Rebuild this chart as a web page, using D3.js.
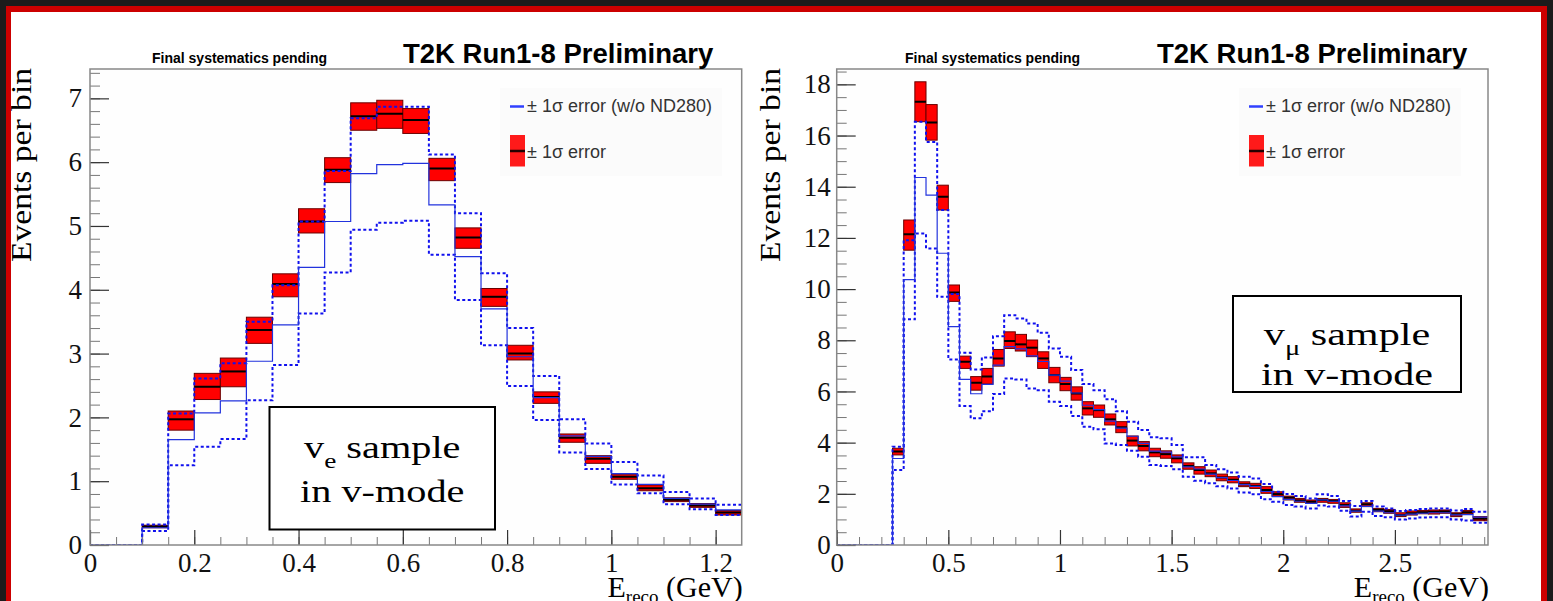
<!DOCTYPE html>
<html>
<head>
<meta charset="utf-8">
<script src="https://cdn.jsdelivr.net/npm/d3@7"></script>
<style>
  html, body { margin: 0; padding: 0; background: #1b1b1b; }
  svg { display: block; }
</style>
</head>
<body>
<svg id="svg" width="1553" height="601"></svg>
<script>
// bins are 0.05 GeV wide, starting at 0
var binWidth = 0.05;

// nu_e sample: postfit central / -1 sigma / +1 sigma
var nueCentral = [0, 0, 0.29, 1.97, 2.48, 2.72, 3.37, 4.09, 5.07, 5.88, 6.72, 6.76, 6.66, 5.90, 4.82, 3.89, 3.00, 2.32, 1.68, 1.35, 1.07, 0.89, 0.71, 0.62, 0.51];
var nueLow     = [0, 0, 0.27, 1.80, 2.28, 2.48, 3.16, 3.89, 4.89, 5.68, 6.50, 6.53, 6.45, 5.71, 4.65, 3.74, 2.90, 2.22, 1.61, 1.28, 1.03, 0.85, 0.68, 0.59, 0.47];
var nueHigh    = [0, 0, 0.31, 2.10, 2.69, 2.93, 3.57, 4.25, 5.27, 6.07, 6.93, 6.97, 6.84, 6.06, 4.97, 4.02, 3.13, 2.40, 1.74, 1.40, 1.11, 0.94, 0.74, 0.65, 0.54];
// nu_e sample without ND280: nominal and +-1 sigma
var nuePrefit     = [0, 0, 0.27, 1.65, 2.07, 2.26, 2.88, 3.45, 4.35, 5.07, 5.82, 5.96, 5.98, 5.33, 4.52, 3.70, 2.95, 2.31, 1.71, 1.39, 1.12, 0.95, 0.73, 0.64, 0.55];
var nuePrefitHigh = [0, 0, 0.32, 2.06, 2.61, 2.85, 3.50, 4.07, 5.07, 5.86, 6.69, 6.87, 6.87, 6.12, 5.20, 4.26, 3.40, 2.65, 1.97, 1.59, 1.30, 1.09, 0.83, 0.73, 0.63];
var nuePrefitLow  = [0, 0, 0.22, 1.25, 1.54, 1.66, 2.27, 2.82, 3.63, 4.27, 4.94, 5.05, 5.08, 4.55, 3.84, 3.13, 2.49, 1.96, 1.45, 1.19, 0.95, 0.81, 0.64, 0.56, 0.47];

// nu_mu sample
var numuCentral = [0, 0, 0, 0, 0, 3.65, 12.14, 17.32, 16.51, 13.61, 9.87, 7.16, 6.34, 6.58, 7.29, 7.97, 7.84, 7.71, 7.29, 6.64,
  6.29, 5.92, 5.34, 5.27, 4.91, 4.60, 4.08, 3.87, 3.62, 3.55, 3.39, 3.09, 2.93, 2.80, 2.64, 2.55, 2.37, 2.31, 2.15, 1.99,
  1.85, 1.74, 1.69, 1.76, 1.72, 1.56, 1.34, 1.59, 1.37, 1.32, 1.17, 1.24, 1.28, 1.30, 1.31, 1.20, 1.28, 1.03, 1.03];
var numuLow = [0, 0, 0, 0, 0, 3.52, 11.52, 16.54, 15.82, 13.09, 9.52, 6.90, 6.05, 6.29, 6.99, 7.68, 7.58, 7.36, 6.90, 6.34,
  6.03, 5.66, 5.08, 4.99, 4.69, 4.39, 3.87, 3.68, 3.45, 3.39, 3.21, 2.96, 2.77, 2.67, 2.51, 2.43, 2.28, 2.21, 2.02, 1.91,
  1.76, 1.67, 1.63, 1.67, 1.63, 1.47, 1.28, 1.50, 1.30, 1.24, 1.11, 1.17, 1.22, 1.21, 1.24, 1.11, 1.22, 0.95, 0.95];
var numuHigh = [0, 0, 0, 0, 0, 3.78, 12.70, 18.10, 17.21, 14.06, 10.16, 7.38, 6.58, 6.90, 7.64, 8.33, 8.23, 8.01, 7.55, 6.94,
  6.55, 6.18, 5.60, 5.47, 5.12, 4.82, 4.26, 4.04, 3.78, 3.68, 3.52, 3.21, 3.06, 2.93, 2.77, 2.67, 2.47, 2.41, 2.28, 2.08,
  1.91, 1.82, 1.76, 1.82, 1.78, 1.65, 1.41, 1.65, 1.43, 1.39, 1.26, 1.33, 1.35, 1.37, 1.37, 1.26, 1.35, 1.11, 1.11];
var numuPrefit = [0, 0, 0, 0, 0, 3.38, 10.37, 14.36, 13.67, 11.40, 8.53, 6.47, 5.91, 6.28, 7.03, 7.75, 7.66, 7.39, 7.17, 6.64,
  6.40, 5.94, 5.46, 5.29, 4.84, 4.57, 4.25, 3.97, 3.67, 3.63, 3.44, 3.05, 2.97, 2.77, 2.63, 2.52, 2.36, 2.29, 2.09, 1.89,
  1.78, 1.71, 1.63, 1.76, 1.71, 1.53, 1.32, 1.51, 1.32, 1.26, 1.17, 1.21, 1.24, 1.26, 1.26, 1.18, 1.19, 1.09, 1.09];
var numuPrefitHigh = [0, 0, 0, 0, 0, 3.84, 11.91, 16.54, 15.75, 13.09, 9.81, 7.51, 6.86, 7.33, 8.16, 8.98, 8.85, 8.66, 8.29, 7.68,
  7.36, 6.84, 6.29, 6.05, 5.70, 5.23, 4.82, 4.49, 4.21, 4.17, 3.91, 3.43, 3.43, 3.13, 2.96, 2.83, 2.67, 2.60, 2.38, 2.08,
  1.99, 1.91, 1.82, 1.98, 1.91, 1.72, 1.52, 1.72, 1.50, 1.43, 1.33, 1.37, 1.41, 1.43, 1.43, 1.35, 1.41, 1.30, 1.30];
var numuPrefitLow = [0, 0, 0, 0, 0, 2.93, 8.82, 12.17, 11.59, 9.70, 7.25, 5.43, 4.95, 5.23, 5.90, 6.51, 6.47, 6.12, 6.05, 5.60,
  5.43, 5.04, 4.62, 4.52, 3.97, 3.91, 3.68, 3.45, 3.13, 3.09, 2.96, 2.67, 2.51, 2.41, 2.30, 2.21, 2.05, 1.98, 1.79, 1.69,
  1.56, 1.50, 1.43, 1.54, 1.50, 1.34, 1.11, 1.30, 1.13, 1.08, 1.00, 1.04, 1.07, 1.08, 1.08, 1.00, 0.96, 0.87, 0.87];

var nueXTicks = [0, 0.2, 0.4, 0.6, 0.8, 1, 1.2];
var nueYTicks = [0, 1, 2, 3, 4, 5, 6, 7];
var numuXTicks = [0, 0.5, 1, 1.5, 2, 2.5];
var numuYTicks = [0, 2, 4, 6, 8, 10, 12, 14, 16, 18];

var legendLabels = ["\u00b1 1\u03c3 error (w/o ND280)", "\u00b1 1\u03c3 error"];

var panels = [
  {
    id: "nue", left: 90, top: 69, right: 741.7, bottom: 545,
    xMax: 1.25, yMax: 7.46, xTicks: nueXTicks, yTicks: nueYTicks,
    xMinorStep: 0.05, yMinorStep: 0.2, yPad: 8,
    central: nueCentral, low: nueLow, high: nueHigh,
    prefit: nuePrefit, prefitHigh: nuePrefitHigh, prefitLow: nuePrefitLow,
    finalX: 152, t2kX: 403, legendX: 510, ytitleX: 31,
    box: [269.5, 407, 495, 529.5], sub: "e", line1: 51, line2: 95, squeeze: 1.3
  },
  {
    id: "numu", left: 836.7, top: 69, right: 1488, bottom: 545,
    xMax: 2.917, yMax: 18.6, xTicks: numuXTicks, yTicks: numuYTicks,
    xMinorStep: 0.1, yMinorStep: 0.5, yPad: 6,
    central: numuCentral, low: numuLow, high: numuHigh,
    prefit: numuPrefit, prefitHigh: numuPrefitHigh, prefitLow: numuPrefitLow,
    finalX: 905, t2kX: 1157, legendX: 1249, ytitleX: 780,
    box: [1233, 296, 1461, 392], sub: "\u03bc", line1: 49, line2: 89, squeeze: 1.36
  }
];

var svg = d3.select("#svg");

// slide frame
svg.append("rect").attr("x", 0).attr("y", 0).attr("width", 1553).attr("height", 601).attr("fill", "#1b1b1b");
svg.append("rect").attr("x", 6).attr("y", 6).attr("width", 1541).attr("height", 600).attr("fill", "#cc0000");
svg.append("rect").attr("x", 11).attr("y", 12).attr("width", 1530).attr("height", 600).attr("fill", "#ffffff");

function stepPoints(vals) {
  var pts = [];
  vals.forEach(function(v, i) {
    pts.push([i * binWidth, v]);
    pts.push([(i + 1) * binWidth, v]);
  });
  return pts;
}

panels.forEach(function(p) {
  var x = d3.scaleLinear().domain([0, p.xMax]).range([p.left, p.right]);
  var y = d3.scaleLinear().domain([0, p.yMax]).range([p.bottom, p.top]);
  var g = svg.append("g").attr("id", p.id);

  g.append("rect")
    .attr("x", p.left).attr("y", p.top)
    .attr("width", p.right - p.left).attr("height", p.bottom - p.top)
    .attr("fill", "#fefefe");

  g.append("clipPath").attr("id", "clip-" + p.id)
    .append("rect")
    .attr("x", p.left).attr("y", p.top)
    .attr("width", p.right - p.left).attr("height", p.bottom - p.top);

  var h = g.append("g").attr("clip-path", "url(#clip-" + p.id + ")");
  var bins = p.central.map(function(d, i) { return i; }).filter(function(i) { return p.high[i] > 0; });

  // red +-1 sigma boxes
  h.selectAll("rect.err").data(bins)
    .enter().append("rect").attr("class", "err")
    .attr("x", function(i) { return x(i * binWidth); })
    .attr("width", function(i) { return x((i + 1) * binWidth) - x(i * binWidth); })
    .attr("y", function(i) { return y(p.high[i]); })
    .attr("height", function(i) { return y(p.low[i]) - y(p.high[i]); })
    .attr("fill", "#ff0000")
    .attr("stroke", "#6a0000")
    .attr("stroke-width", 1);

  // central values
  h.selectAll("line.cen").data(bins)
    .enter().append("line").attr("class", "cen")
    .attr("x1", function(i) { return x(i * binWidth); })
    .attr("x2", function(i) { return x((i + 1) * binWidth); })
    .attr("y1", function(i) { return y(p.central[i]); })
    .attr("y2", function(i) { return y(p.central[i]); })
    .attr("stroke", "#000")
    .attr("stroke-width", 2);

  var line = d3.line().x(function(d) { return x(d[0]); }).y(function(d) { return y(d[1]); });

  h.append("path").attr("d", line(stepPoints(p.prefitHigh)))
    .attr("fill", "none").attr("stroke", "#1010ee").attr("stroke-width", 2)
    .attr("stroke-dasharray", "3,2.5");
  h.append("path").attr("d", line(stepPoints(p.prefitLow)))
    .attr("fill", "none").attr("stroke", "#1010ee").attr("stroke-width", 2)
    .attr("stroke-dasharray", "3,2.5");
  h.append("path").attr("d", line(stepPoints(p.prefit)))
    .attr("fill", "none").attr("stroke", "#2233dd").attr("stroke-width", 1.2);

  // axes, ROOT style ticks inside the frame
  var yMinor = d3.range(0, p.yMax, p.yMinorStep);
  var xMinor = d3.range(0, p.xMax, p.xMinorStep);

  g.append("g").attr("transform", "translate(" + p.left + ",0)")
    .call(d3.axisLeft(y).tickValues(yMinor).tickSize(-10).tickSizeOuter(0).tickFormat(""))
    .call(function(s) { s.select(".domain").remove(); s.selectAll("line").attr("stroke", "#777"); });
  g.append("g").attr("transform", "translate(" + p.left + ",0)")
    .call(d3.axisLeft(y).tickValues(p.yTicks).tickSize(-19).tickSizeOuter(0).tickPadding(p.yPad).tickFormat(d3.format("")))
    .call(function(s) {
      s.select(".domain").remove();
      s.selectAll("line").attr("stroke", "#333").attr("stroke-width", 1.2);
      s.selectAll("text").attr("font-family", "Liberation Serif, serif").attr("font-size", 27).attr("fill", "#111");
    });
  g.append("g").attr("transform", "translate(0," + p.bottom + ")")
    .call(d3.axisBottom(x).tickValues(xMinor).tickSize(-8).tickSizeOuter(0).tickFormat(""))
    .call(function(s) { s.select(".domain").remove(); s.selectAll("line").attr("stroke", "#777"); });
  g.append("g").attr("transform", "translate(0," + p.bottom + ")")
    .call(d3.axisBottom(x).tickValues(p.xTicks).tickSize(-15).tickSizeOuter(0).tickPadding(8).tickFormat(d3.format("")))
    .call(function(s) {
      s.select(".domain").remove();
      s.selectAll("line").attr("stroke", "#333").attr("stroke-width", 1.2);
      s.selectAll("text").attr("font-family", "Liberation Serif, serif").attr("font-size", 27).attr("fill", "#111");
    });

  g.append("rect")
    .attr("x", p.left).attr("y", p.top)
    .attr("width", p.right - p.left).attr("height", p.bottom - p.top)
    .attr("fill", "none").attr("stroke", "#888").attr("stroke-width", 1.5);

  // titles
  g.append("text").attr("x", p.finalX).attr("y", 63)
    .attr("font-family", "Liberation Sans, Arial, sans-serif").attr("font-weight", "bold")
    .attr("font-size", 14).text("Final systematics pending");
  g.append("text").attr("x", p.t2kX).attr("y", 63)
    .attr("font-family", "Liberation Sans, Arial, sans-serif").attr("font-weight", "bold")
    .attr("font-size", 27.5).text("T2K Run1-8 Preliminary");

  g.append("text")
    .attr("transform", "translate(" + p.ytitleX + ",68) rotate(-90)")
    .attr("text-anchor", "end")
    .attr("font-family", "Liberation Serif, serif").attr("font-size", 29)
    .attr("textLength", 194).attr("lengthAdjust", "spacingAndGlyphs")
    .text("Events per bin");

  var xt = g.append("text").attr("x", p.right + 1).attr("y", 597)
    .attr("text-anchor", "end")
    .attr("font-family", "Liberation Serif, serif").attr("font-size", 30);
  xt.append("tspan").text("E");
  xt.append("tspan").attr("font-size", 19).attr("dy", 6).text("reco");
  xt.append("tspan").attr("dy", -6).text(" (GeV)");

  // legend
  var lg = g.append("g");
  lg.append("rect").attr("x", p.legendX - 10).attr("y", 88).attr("width", 222).attr("height", 88)
    .attr("fill", "#fbfbfb");
  lg.append("line").attr("x1", p.legendX).attr("x2", p.legendX + 14)
    .attr("y1", 106.5).attr("y2", 106.5)
    .attr("stroke", "#3040ff").attr("stroke-width", 2.5);
  lg.append("rect").attr("x", p.legendX).attr("y", 135).attr("width", 15).attr("height", 31.5)
    .attr("fill", "#ff1a1a");
  lg.append("line").attr("x1", p.legendX).attr("x2", p.legendX + 15)
    .attr("y1", 151).attr("y2", 151)
    .attr("stroke", "#220000").attr("stroke-width", 2.5);
  lg.selectAll("text").data(legendLabels).enter().append("text")
    .attr("x", p.legendX + 17)
    .attr("y", function(d, i) { return i === 0 ? 112 : 158; })
    .attr("font-family", "Liberation Sans, Arial, sans-serif").attr("font-size", 18)
    .attr("fill", "#333")
    .text(function(d) { return d; });

  // sample label box
  var b = p.box;
  g.append("rect").attr("x", b[0]).attr("y", b[1]).attr("width", b[2] - b[0]).attr("height", b[3] - b[1])
    .attr("fill", "#fff").attr("stroke", "#000").attr("stroke-width", 2);
  var cx = (b[0] + b[2]) / 2;
  var l1 = g.append("text")
    .attr("transform", "translate(" + cx + "," + (b[1] + p.line1) + ") scale(" + p.squeeze + ",1)")
    .attr("text-anchor", "middle")
    .attr("font-family", "Liberation Serif, serif").attr("font-size", 31);
  l1.append("tspan").text("v");
  l1.append("tspan").attr("font-size", 21).attr("dy", 10).text(p.sub);
  l1.append("tspan").attr("dy", -10).text(" sample");
  g.append("text")
    .attr("transform", "translate(" + cx + "," + (b[1] + p.line2) + ") scale(" + p.squeeze + ",1)")
    .attr("text-anchor", "middle")
    .attr("font-family", "Liberation Serif, serif").attr("font-size", 31)
    .text("in v-mode");
});
</script>
</body>
</html>
